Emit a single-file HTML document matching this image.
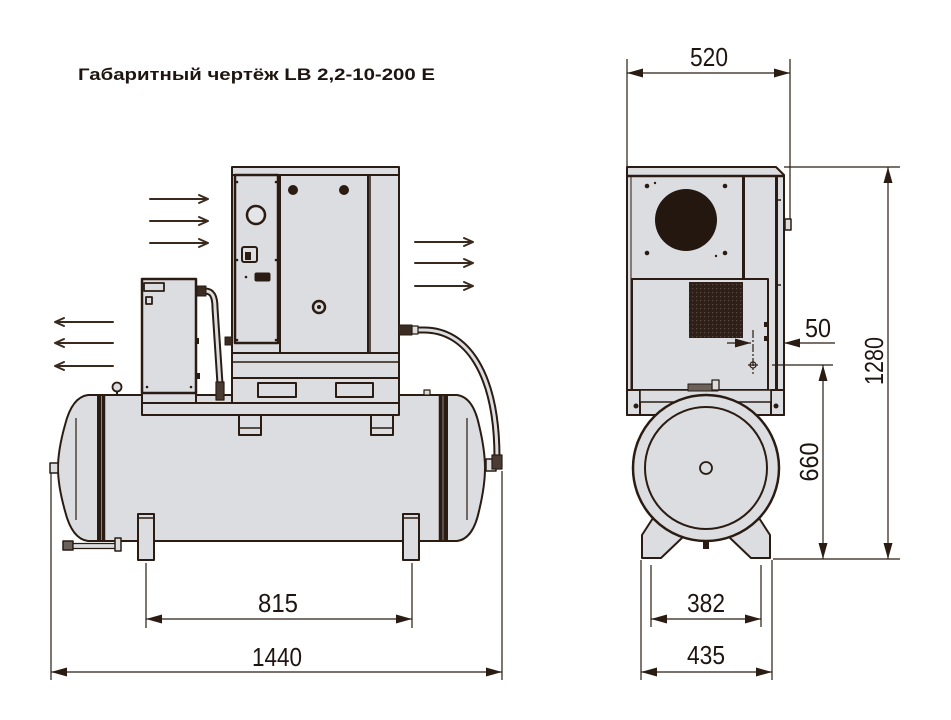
<!DOCTYPE html>
<html><head><meta charset="utf-8">
<style>
html,body{margin:0;padding:0;background:#fff;}
svg{display:block;}
text{font-family:"Liberation Sans",Arial,sans-serif;fill:#1f1510;}
</style></head><body>
<svg width="951" height="720" viewBox="0 0 951 720" xmlns="http://www.w3.org/2000/svg">
<defs>
<marker id="ah" viewBox="0 0 16 10" refX="16" refY="5" markerWidth="16" markerHeight="10" markerUnits="userSpaceOnUse" orient="auto-start-reverse"><path d="M0,0.5 L16,5 L0,9.5 Z" fill="#2a1c12"/></marker>
<pattern id="grid" width="4" height="4" patternUnits="userSpaceOnUse"><rect width="4" height="4" fill="#2e2018"/><rect x="0" y="0" width="1.2" height="1.2" fill="#5a4a40"/></pattern>
</defs>

<!-- Title -->
<text x="78" y="80" font-size="17" font-weight="bold" textLength="357" lengthAdjust="spacingAndGlyphs">Габаритный чертёж LB 2,2-10-200 E</text>

<!-- ================= LEFT VIEW ================= -->
<g stroke="#2a1c12" fill="#dcdde1" stroke-linejoin="round">
  <path d="M100,395 L88,395 Q72,397 65,425 Q58,450 58,468 Q58,486 65,511 Q72,539 88,541 L100,541 Z" stroke-width="2"/>
  <path d="M445,395 L457,395 Q473,397 479,425 Q485,450 485,468 Q485,486 479,511 Q473,539 457,541 L445,541 Z" stroke-width="2"/>
  <rect x="98" y="395" width="349" height="146" stroke-width="2"/>
  <line x1="76" y1="418" x2="76" y2="520" stroke-width="1.2"/>
  <line x1="467" y1="418" x2="467" y2="520" stroke-width="1.2"/>
  <rect x="98" y="395" width="7" height="146" fill="#2a1c12" stroke-width="0.5"/>
  <line x1="101.5" y1="396" x2="101.5" y2="540" stroke="#8a8580" stroke-width="1"/>
  <rect x="439" y="395" width="8" height="146" fill="#2a1c12" stroke-width="0.5"/>
  <line x1="443" y1="396" x2="443" y2="540" stroke="#8a8580" stroke-width="1"/>

  <rect x="50" y="463" width="8" height="10" stroke-width="1.5"/>
  <rect x="486" y="459" width="10" height="12" stroke-width="1.5"/>
  <rect x="424" y="390" width="6" height="5" stroke-width="1.2"/>
  <line x1="117" y1="391" x2="117" y2="396" stroke-width="2"/>
  <circle cx="117" cy="387" r="4.5" stroke-width="1.8"/>
  <rect x="63" y="541" width="10" height="9" fill="#6b625c" stroke-width="1.5"/>
  <rect x="73" y="543.5" width="43" height="5" stroke-width="1.3"/>
  <rect x="115" y="538" width="6" height="13" stroke-width="1.5"/>

  <rect x="138" y="514" width="16" height="46" stroke-width="2"/>
  <line x1="138" y1="518" x2="154" y2="518" stroke-width="1.5"/>
  <rect x="403" y="514" width="16" height="46" stroke-width="2"/>
  <line x1="403" y1="518" x2="419" y2="518" stroke-width="1.5"/>

  <rect x="239" y="415" width="22" height="20" stroke-width="2"/>
  <line x1="239" y1="428" x2="261" y2="428" stroke-width="1.5"/>
  <rect x="371" y="415" width="22" height="20" stroke-width="2"/>
  <line x1="371" y1="428" x2="393" y2="428" stroke-width="1.5"/>

  <rect x="142" y="403" width="257" height="12" stroke-width="2"/>

  <rect x="142" y="391" width="54" height="12" stroke-width="2"/>
  <rect x="142" y="279" width="54" height="114" stroke-width="2.5"/>
  <rect x="144" y="283" width="20" height="8" stroke-width="1.8"/>
  <rect x="146" y="297" width="6" height="7" stroke-width="1.8"/>
  <circle cx="147" cy="387" r="1.3" fill="#2a1c12" stroke="none"/>
  <circle cx="191" cy="387" r="1.3" fill="#2a1c12" stroke="none"/>
  <rect x="196" y="338" width="3" height="6" fill="#2a1c12" stroke="none"/>
  <rect x="196" y="373" width="4" height="6" fill="#2a1c12" stroke="none"/>

  <path d="M205,291 C212,291 215,296 215,308 L220,384" fill="none" stroke-width="7"/>
  <path d="M205,291 C212,291 215,296 215,308 L220,384" fill="none" stroke="#dcdde1" stroke-width="3"/>
  <rect x="197" y="286" width="9" height="10" fill="#3a2c22" stroke-width="1"/>
  <rect x="216" y="382" width="8" height="18" fill="#4a3c32" stroke-width="1.2"/>

  <rect x="232" y="167" width="167" height="236" stroke-width="2"/>
  <line x1="232" y1="175" x2="399" y2="175" stroke-width="2"/>
  <rect x="235" y="175" width="43" height="168" fill="none" stroke-width="2.5"/>
  <rect x="280" y="175" width="88" height="178" fill="none" stroke-width="2"/>
  <line x1="370" y1="175" x2="370" y2="353" stroke-width="1.5"/>
  <line x1="232" y1="353" x2="399" y2="353" stroke-width="2"/>
  <line x1="232" y1="362" x2="399" y2="362" stroke-width="1.5"/>
  <line x1="232" y1="378" x2="399" y2="378" stroke-width="2"/>
  <rect x="258" y="383" width="38" height="14" stroke-width="2"/>
  <rect x="336" y="383" width="37" height="14" stroke-width="2"/>
  <g fill="#2a1c12" stroke="none">
    <circle cx="237" cy="182" r="1.3"/><circle cx="276" cy="182" r="1.3"/>
    <circle cx="237" cy="260" r="1.3"/><circle cx="276" cy="260" r="1.3"/>
    <circle cx="237" cy="340" r="1.3"/><circle cx="276" cy="340" r="1.3"/>
    <circle cx="246" cy="277" r="1.3"/>
  </g>
  <circle cx="256" cy="215" r="9" stroke-width="2.5" fill="#e4e5e8"/>
  <rect x="242" y="247" width="15" height="15" rx="2" stroke-width="2"/>
  <rect x="245" y="252" width="6" height="8" fill="#2a1c12" stroke="none"/>
  <rect x="255" y="273" width="15" height="8" rx="1.5" fill="#2a1c12" stroke-width="1"/>
  <circle cx="293" cy="190" r="4.5" fill="#2a1c12" stroke-width="1"/>
  <circle cx="344" cy="190" r="4.5" fill="#2a1c12" stroke-width="1"/>
  <circle cx="319" cy="307" r="6" stroke-width="2.5"/>
  <circle cx="319" cy="307" r="2" fill="#2a1c12" stroke="none"/>
  <rect x="225" y="337" width="7" height="8" fill="#3a2c22" stroke-width="1"/>

  <path d="M414,330 L424,330 C466,330 497,372 497,458" fill="none" stroke-width="7"/>
  <path d="M414,330 L424,330 C466,330 497,372 497,458" fill="none" stroke="#dcdde1" stroke-width="3"/>
  <rect x="399" y="325" width="13" height="10" fill="#3a2c22" stroke-width="1"/>
  <rect x="412" y="326" width="6" height="8" stroke-width="1.2"/>
  <rect x="492" y="455" width="10" height="14" fill="#4a3c32" stroke-width="1.2"/>
</g>

<g stroke="#3a2a1e" stroke-width="2" fill="none" stroke-linecap="round" stroke-linejoin="round">
  <path d="M150,199 H208 M199,195 L208,199 L199,203"/>
  <path d="M150,221 H208 M199,217 L208,221 L199,225"/>
  <path d="M150,243 H208 M199,239 L208,243 L199,247"/>
  <path d="M415,242 H473 M464,238 L473,242 L464,246"/>
  <path d="M415,263 H473 M464,259 L473,263 L464,267"/>
  <path d="M415,286 H473 M464,282 L473,286 L464,290"/>
  <path d="M113,322 H55 M64,318 L55,322 L64,326"/>
  <path d="M113,343 H55 M64,339 L55,343 L64,347"/>
  <path d="M113,366 H55 M64,362 L55,366 L64,370"/>
</g>

<g stroke="#2a1c12" stroke-width="1.2" fill="none">
  <line x1="146" y1="563" x2="146" y2="628"/>
  <line x1="412" y1="563" x2="412" y2="628"/>
  <line x1="51" y1="473" x2="51" y2="680"/>
  <line x1="502" y1="471" x2="502" y2="680"/>
  <line x1="146" y1="619" x2="412" y2="619" marker-start="url(#ah)" marker-end="url(#ah)"/>
  <line x1="51" y1="672" x2="502" y2="672" marker-start="url(#ah)" marker-end="url(#ah)"/>
</g>
<text x="278" y="612" font-size="26" text-anchor="middle" textLength="40" lengthAdjust="spacingAndGlyphs">815</text>
<text x="277" y="666" font-size="26" text-anchor="middle" textLength="50" lengthAdjust="spacingAndGlyphs">1440</text>

<!-- ================= RIGHT VIEW ================= -->
<g stroke="#2a1c12" fill="#dcdde1" stroke-linejoin="round">
  <path d="M627,167 L776,167 L784,175 L784,415 L627,415 Z" stroke-width="2"/>
  <line x1="627" y1="176" x2="784" y2="176" stroke-width="2.5"/>
  <line x1="631" y1="177" x2="631" y2="390" stroke-width="1"/>
  <rect x="742" y="177" width="3" height="102" fill="#2a1c12" stroke="none"/>
  <rect x="775" y="177" width="3" height="215" fill="#2a1c12" stroke="none"/>
  <circle cx="686" cy="220" r="31" fill="#24170f" stroke="none"/>
  <g fill="#2a1c12" stroke="none">
    <circle cx="647" cy="186" r="2.3"/><circle cx="655" cy="183" r="1.2"/>
    <circle cx="725" cy="186" r="2.3"/>
    <circle cx="647" cy="253" r="2.3"/>
    <circle cx="725" cy="253" r="2.3"/><circle cx="716" cy="256" r="1.2"/>
  </g>
  <rect x="785" y="219" width="6" height="11" stroke-width="1.5"/>
  <line x1="778" y1="200" x2="781" y2="200" stroke-width="1.5"/>
  <line x1="778" y1="285" x2="781" y2="285" stroke-width="1.5"/>
  <rect x="632" y="279" width="136" height="111" stroke-width="2"/>
  <rect x="689" y="282" width="54" height="56" fill="url(#grid)" stroke="none"/>
  <rect x="764" y="322" width="4" height="5" fill="#2a1c12" stroke="none"/>
  <rect x="764" y="336" width="4" height="5" fill="#2a1c12" stroke="none"/>
  <rect x="627" y="390" width="13" height="25" stroke-width="2"/>
  <rect x="771" y="390" width="13" height="25" stroke-width="2"/>
  <rect x="640" y="390" width="131" height="12" stroke-width="1.5"/>
  <rect x="688" y="384" width="30" height="7" fill="#6b625c" stroke-width="1"/>
  <rect x="712" y="380" width="7" height="10" stroke-width="1.3"/>
  <circle cx="636" cy="406" r="2.5" fill="#2a1c12" stroke="none"/>
  <circle cx="776" cy="406" r="2.5" fill="#2a1c12" stroke="none"/>
  <polygon points="653,518 642,535 642,558 661,558 683,537 680,515" stroke-width="2"/>
  <polygon points="759,518 770,535 770,558 751,558 729,537 732,515" stroke-width="2"/>
  <circle cx="706" cy="468" r="73" stroke-width="2.5"/>
  <circle cx="706" cy="468" r="61" stroke-width="2"/>
  <circle cx="706" cy="468" r="6" stroke-width="1.8"/>
  <rect x="703" y="541" width="6" height="8" fill="#2a1c12" stroke="none"/>
  <circle cx="753" cy="365" r="3" fill="none" stroke-width="1.2"/>
</g>

<g stroke="#2a1c12" stroke-width="1.2" fill="none">
  <line x1="627" y1="59" x2="627" y2="167"/>
  <line x1="790" y1="59" x2="790" y2="219"/>
  <line x1="627" y1="73" x2="790" y2="73" marker-start="url(#ah)" marker-end="url(#ah)"/>
  <line x1="784" y1="167" x2="900" y2="167"/>
  <line x1="773" y1="559" x2="900" y2="559"/>
  <line x1="772" y1="365" x2="833" y2="365"/>
  <line x1="888" y1="167" x2="888" y2="559" marker-start="url(#ah)" marker-end="url(#ah)"/>
  <line x1="823" y1="365" x2="823" y2="559" marker-start="url(#ah)" marker-end="url(#ah)"/>
  <line x1="727" y1="343" x2="751" y2="343" marker-end="url(#ah)"/>
  <line x1="835" y1="343" x2="784" y2="343" marker-end="url(#ah)"/>
  <line x1="753" y1="330" x2="753" y2="374" stroke-dasharray="8,2,2,2"/>
  <line x1="748" y1="365" x2="758" y2="365"/>
  <line x1="641" y1="560" x2="641" y2="680"/>
  <line x1="772" y1="560" x2="772" y2="680"/>
  <line x1="651" y1="565" x2="651" y2="627"/>
  <line x1="761" y1="565" x2="761" y2="627"/>
  <line x1="651" y1="619" x2="761" y2="619" marker-start="url(#ah)" marker-end="url(#ah)"/>
  <line x1="641" y1="672" x2="772" y2="672" marker-start="url(#ah)" marker-end="url(#ah)"/>
</g>
<text x="709" y="66" font-size="26" text-anchor="middle" textLength="38" lengthAdjust="spacingAndGlyphs">520</text>
<text x="818" y="337" font-size="26" text-anchor="middle" textLength="26" lengthAdjust="spacingAndGlyphs">50</text>
<text x="706" y="612" font-size="26" text-anchor="middle" textLength="38" lengthAdjust="spacingAndGlyphs">382</text>
<text x="706" y="664" font-size="26" text-anchor="middle" textLength="38" lengthAdjust="spacingAndGlyphs">435</text>
<text transform="translate(818,462) rotate(-90)" x="0" y="0" font-size="26" text-anchor="middle" textLength="39" lengthAdjust="spacingAndGlyphs">660</text>
<text transform="translate(883,361) rotate(-90)" x="0" y="0" font-size="26" text-anchor="middle" textLength="48" lengthAdjust="spacingAndGlyphs">1280</text>
</svg>
</body></html>
